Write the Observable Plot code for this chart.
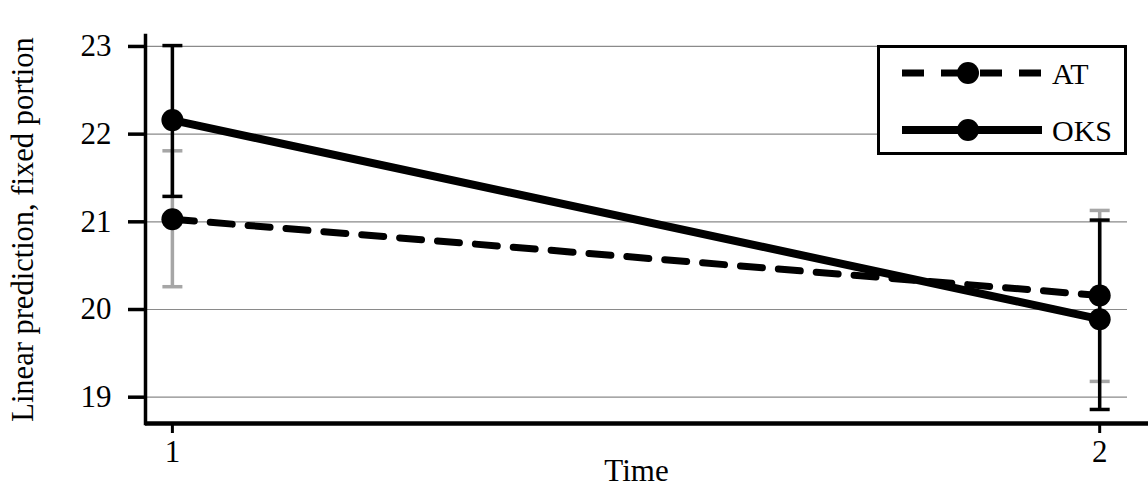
<!DOCTYPE html>
<html>
<head>
<meta charset="utf-8">
<script src="https://cdn.jsdelivr.net/npm/d3@7"></script>
<script src="https://cdn.jsdelivr.net/npm/@observablehq/plot@0.6"></script>
<style>
  html, body { margin: 0; padding: 0; background: #fff; }
  #wrap { position: relative; width: 1148px; height: 495px; font-family: "Liberation Serif", "Times New Roman", serif; }
  #legend { position: absolute; left: 877px; top: 45px; width: 244px; height: 104px; border: 3px solid #000; background: #fff; }
  #legend svg { position: absolute; left: 0; top: 0; }
</style>
</head>
<body>
<div id="wrap"></div>
<script>
// ---- data ----
const times = [1, 2];
const groups = ["AT", "OKS"];
const atEst = [21.03, 20.16];
const atLo  = [20.26, 19.18];
const atHi  = [21.81, 21.13];
const oksEst = [22.16, 19.89];
const oksLo  = [21.29, 18.86];
const oksHi  = [23.01, 21.02];
const yTicks = [19, 20, 21, 22, 23];
const xTicks = [1, 2];
const xLabel = "Time";
const yLabel = "Linear prediction, fixed portion";

const rows = [];
times.forEach((t, i) => {
  rows.push({group: "AT", time: t, est: atEst[i], lo: atLo[i], hi: atHi[i]});
  rows.push({group: "OKS", time: t, est: oksEst[i], lo: oksLo[i], hi: oksHi[i]});
});
const at = rows.filter(d => d.group === "AT");
const oks = rows.filter(d => d.group === "OKS");

const capSymbol = {
  draw(ctx, size) {
    const r = Math.sqrt(size / Math.PI);
    ctx.moveTo(-r, 0);
    ctx.lineTo(r, 0);
  }
};

const gray = "#a6a6a6";
const yDomain = [18.70, 23.125];
const serif = "'Liberation Serif', 'Times New Roman', serif";

const chart = Plot.plot({
  width: 1148,
  height: 495,
  marginLeft: 145,
  marginRight: 21,
  marginTop: 35,
  marginBottom: 72,
  style: {fontFamily: serif, fontSize: "30px", background: "#fff"},
  x: {domain: [0.971, 2.03]},
  y: {domain: yDomain},
  marks: [
    Plot.ruleY(yTicks, {stroke: "#8a8a8a", strokeWidth: 1.2}),
    // AT CI (gray)
    Plot.ruleX(at, {x: "time", y1: "lo", y2: "hi", stroke: gray, strokeWidth: 3.5}),
    Plot.dot(at, {x: "time", y: "lo", symbol: capSymbol, r: 10, stroke: gray, strokeWidth: 3.5, fill: "none"}),
    Plot.dot(at, {x: "time", y: "hi", symbol: capSymbol, r: 10, stroke: gray, strokeWidth: 3.5, fill: "none"}),
    // OKS CI (black)
    Plot.ruleX(oks, {x: "time", y1: "lo", y2: "hi", stroke: "#000", strokeWidth: 3.5}),
    Plot.dot(oks, {x: "time", y: "lo", symbol: capSymbol, r: 10, stroke: "#000", strokeWidth: 3.5, fill: "none"}),
    Plot.dot(oks, {x: "time", y: "hi", symbol: capSymbol, r: 10, stroke: "#000", strokeWidth: 3.5, fill: "none"}),
    // lines
    Plot.line(at, {x: "time", y: "est", stroke: "#000", strokeWidth: 7, strokeDasharray: "22,16"}),
    Plot.line(oks, {x: "time", y: "est", stroke: "#000", strokeWidth: 8}),
    Plot.dot(rows, {x: "time", y: "est", r: 11, fill: "#000"}),
    // axes
    Plot.frame({anchor: "left", strokeWidth: 3.5}),
    Plot.ruleY([yDomain[0]], {strokeWidth: 4.5, insetRight: -21}),
    Plot.axisY({ticks: yTicks, tickFormat: d3.format("d"), tickSize: 17, tickPadding: 17, strokeWidth: 3.5, fontSize: 31, label: null}),
    Plot.axisX({ticks: xTicks, tickFormat: d3.format("d"), tickSize: 10, tickPadding: 6, strokeWidth: 3, fontSize: 31, label: null}),
    Plot.text([xLabel], {frameAnchor: "bottom", dy: 48, lineAnchor: "middle", textAnchor: "middle", fontSize: 31}),
    Plot.text([yLabel], {frameAnchor: "left", rotate: -90, dx: -122, lineAnchor: "middle", textAnchor: "middle", fontSize: 30.5})
  ]
});

const wrap = document.getElementById("wrap");
wrap.appendChild(chart);

// legend
const legend = document.createElement("div");
legend.id = "legend";
const ns = "http://www.w3.org/2000/svg";
const lsvg = document.createElementNS(ns, "svg");
lsvg.setAttribute("width", 244);
lsvg.setAttribute("height", 104);
const entries = [
  {label: groups[0], dash: "22,17", w: 7, y: 25},
  {label: groups[1], dash: null, w: 8, y: 82}
];
entries.forEach(e => {
  const ln = document.createElementNS(ns, "line");
  ln.setAttribute("x1", 22); ln.setAttribute("x2", 162);
  ln.setAttribute("y1", e.y); ln.setAttribute("y2", e.y);
  ln.setAttribute("stroke", "#000");
  ln.setAttribute("stroke-width", e.w);
  if (e.dash) ln.setAttribute("stroke-dasharray", e.dash);
  lsvg.appendChild(ln);
  const c = document.createElementNS(ns, "circle");
  c.setAttribute("cx", 88); c.setAttribute("cy", e.y); c.setAttribute("r", 11);
  c.setAttribute("fill", "#000");
  lsvg.appendChild(c);
  const t = document.createElementNS(ns, "text");
  t.setAttribute("x", 172); t.setAttribute("y", e.y);
  t.setAttribute("dy", "0.35em");
  t.setAttribute("font-size", 30);
  t.setAttribute("font-family", serif);
  t.textContent = e.label;
  lsvg.appendChild(t);
});
legend.appendChild(lsvg);
wrap.appendChild(legend);
</script>
</body>
</html>
